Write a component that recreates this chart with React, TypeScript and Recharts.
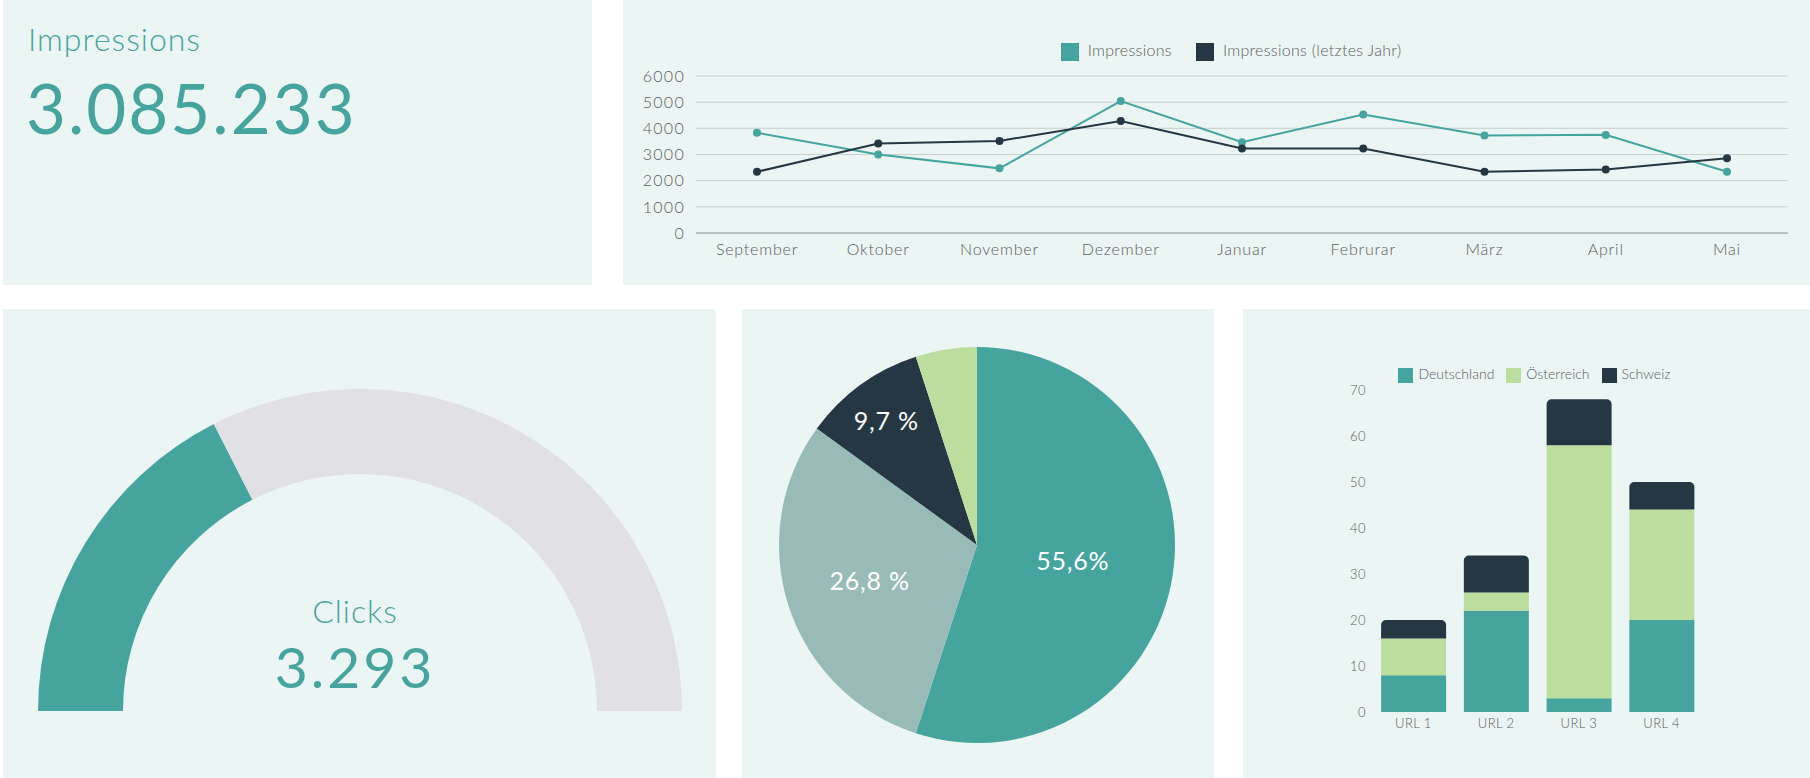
import { LineChart, Line, XAxis, YAxis, CartesianGrid, Legend, PieChart, Pie, Cell, BarChart, Bar } from 'recharts';

const months = ['September', 'Oktober', 'November', 'Dezember', 'Januar', 'Februrar', 'März', 'April', 'Mai'];
const impressions = [3830, 3000, 2470, 5040, 3470, 4530, 3730, 3750, 2340];
const impressionsLastYear = [2340, 3420, 3520, 4280, 3230, 3230, 2340, 2430, 2860];
const lineTicks = [0, 1000, 2000, 3000, 4000, 5000, 6000];

const totalImpressions = '3.085.233';
const totalClicks = '3.293';
const gaugeShare = [35, 65];

const pieValues = [55, 30, 10, 5];
const pieLabels = ['55,6%', '26,8 %', '9,7 %', ''];

const urls = ['URL 1', 'URL 2', 'URL 3', 'URL 4'];
const deutschland = [8, 22, 3, 20];
const oesterreich = [8, 4, 55, 24];
const schweiz = [4, 8, 10, 6];
const barTicks = [0, 10, 20, 30, 40, 50, 60, 70];

const TEAL = '#45a59e';
const DARK = '#243743';
const LIGHT = '#bbdd9e';
const GREYTEAL = '#99bbb7';
const GAUGE_GREY = '#e1e0e5';
const PANEL = '#ebf5f3';
const TEXT = '#5a6060';
const FONT = 'Lato, "Open Sans", sans-serif';

const lineData = months.map((m, i) => ({ month: m, impressions: impressions[i], lastYear: impressionsLastYear[i] }));
const barData = urls.map((u, i) => ({ url: u, de: deutschland[i], at: oesterreich[i], ch: schweiz[i] }));
const gaugeData = gaugeShare.map((v, i) => ({ name: i === 0 ? 'Clicks' : 'Rest', value: v }));
const pieData = pieValues.map((v, i) => ({ name: pieLabels[i], value: v }));
const pieColors = [TEAL, GREYTEAL, DARK, LIGHT];
const labelRadius = [0.49, 0.57, 0.78, 0];
const noMargin = { top: 0, right: 0, bottom: 0, left: 0 };

const lineTickX = { fill: TEXT, fontSize: 16, fontFamily: FONT, fontWeight: 300, letterSpacing: 0.8 };
const lineTickY = { fill: TEXT, fontSize: 16, fontFamily: FONT, fontWeight: 300, letterSpacing: 1.3 };
const barTick = { fill: TEXT, fontSize: 13, fontFamily: FONT, fontWeight: 300, letterSpacing: 0.4 };

const lineLegendText = (v: string) => (
  <span style={{ color: TEXT, fontFamily: FONT, fontWeight: 300, paddingLeft: 5, paddingRight: 14, letterSpacing: 0.3 }}>{v}</span>
);
const barLegendText = (v: string) => (
  <span style={{ color: TEXT, fontFamily: FONT, fontWeight: 300, paddingLeft: 1, paddingRight: 2 }}>{v}</span>
);

function panel(left: number, top: number, width: number, height: number): React.CSSProperties {
  return { position: 'absolute', left, top, width, height, background: PANEL };
}

const RAD = Math.PI / 180;
function renderPieLabel(props: any) {
  const { cx, cy, midAngle, outerRadius, index } = props;
  if (!pieLabels[index]) return null;
  const r = outerRadius * labelRadius[index];
  const x = cx + r * Math.cos(-midAngle * RAD);
  const y = cy + r * Math.sin(-midAngle * RAD);
  return (
    <text x={x} y={y} fill="#ffffff" fontSize={25} fontFamily={FONT} style={{ letterSpacing: 0.8 }} textAnchor="middle" dominantBaseline="central">
      {pieLabels[index]}
    </text>
  );
}

export default function App() {
  return (
    <div style={{ position: 'absolute', left: 0, top: 0, width: 1810, height: 778, background: '#ffffff', overflow: 'hidden', fontFamily: FONT }}>
      {/* KPI impressions */}
      <div style={panel(3, 0, 589, 285)}>
        <div style={{ position: 'absolute', left: 25, top: 23, fontSize: 32, lineHeight: 1, color: TEAL, fontWeight: 300, letterSpacing: 1 }}>Impressions</div>
        <div style={{ position: 'absolute', left: 23, top: 73, fontSize: 69, lineHeight: 1, color: TEAL, letterSpacing: 2 }}>{totalImpressions}</div>
      </div>

      {/* line chart */}
      <div style={panel(623, 0, 1187, 285)}>
        <LineChart width={1187} height={285} data={lineData} margin={{ top: 40, right: 22, left: 13, bottom: 22 }}>
          <CartesianGrid vertical={false} stroke="#c8d0d0" />
          <XAxis dataKey="month" tick={lineTickX} tickLine={false} tickMargin={5} stroke="#9aa2a2" padding={{ left: 61, right: 61 }} />
          <YAxis width={60} domain={[0, 6000]} ticks={lineTicks} tick={lineTickY} tickLine={false} axisLine={false} tickMargin={5} />
          <Legend verticalAlign="top" height={36} iconType="square" iconSize={18} itemSorter={null as any} formatter={lineLegendText} wrapperStyle={{ fontSize: 16, paddingLeft: 31 }} />
          <Line dataKey="impressions" name="Impressions" stroke={TEAL} strokeWidth={2} dot={{ r: 3, fill: TEAL, stroke: TEAL }} isAnimationActive={false} />
          <Line dataKey="lastYear" name="Impressions (letztes Jahr)" stroke={DARK} strokeWidth={2} dot={{ r: 3, fill: DARK, stroke: DARK }} isAnimationActive={false} />
        </LineChart>
      </div>

      {/* gauge */}
      <div style={panel(3, 309, 713, 469)}>
        <PieChart width={713} height={469} margin={noMargin}>
          <Pie data={gaugeData} dataKey="value" cx={357} cy={402} startAngle={180} endAngle={0} innerRadius={237} outerRadius={322} stroke="none" isAnimationActive={false}>
            <Cell fill={TEAL} />
            <Cell fill={GAUGE_GREY} />
          </Pie>
        </PieChart>
        <div style={{ position: 'absolute', left: 252, width: 200, top: 286, textAlign: 'center', fontSize: 32, lineHeight: 1, color: TEAL, fontWeight: 300, letterSpacing: 1 }}>Clicks</div>
        <div style={{ position: 'absolute', left: 202, width: 300, top: 329, textAlign: 'center', fontSize: 57, lineHeight: 1, color: TEAL, letterSpacing: 3 }}>{totalClicks}</div>
      </div>

      {/* pie */}
      <div style={panel(742, 309, 472, 469)}>
        <PieChart width={472} height={469} margin={noMargin}>
          <Pie data={pieData} dataKey="value" cx={235} cy={236} outerRadius={198} startAngle={90} endAngle={-270} stroke="none" label={renderPieLabel} labelLine={false} isAnimationActive={false}>
            {pieData.map((_, i) => <Cell key={i} fill={pieColors[i]} />)}
          </Pie>
        </PieChart>
      </div>

      {/* stacked bars */}
      <div style={panel(1243, 309, 567, 469)}>
        <BarChart width={567} height={469} data={barData} margin={{ top: 56, right: 107, left: 89, bottom: 36 }} barCategoryGap="11%">
          <XAxis dataKey="url" tick={barTick} tickLine={false} axisLine={false} tickSize={0} tickMargin={7} />
          <YAxis width={40} domain={[0, 70]} ticks={barTicks} tick={barTick} tickLine={false} axisLine={false} tickSize={0} tickMargin={6} />
          <Legend verticalAlign="top" height={25} iconType="square" iconSize={15} itemSorter={null as any} formatter={barLegendText} wrapperStyle={{ fontSize: 14, paddingLeft: 23 }} />
          <Bar dataKey="de" name="Deutschland" stackId="a" fill={TEAL} isAnimationActive={false} />
          <Bar dataKey="at" name="Österreich" stackId="a" fill={LIGHT} isAnimationActive={false} />
          <Bar dataKey="ch" name="Schweiz" stackId="a" fill={DARK} radius={[5, 5, 0, 0]} isAnimationActive={false} />
        </BarChart>
      </div>
    </div>
  );
}
